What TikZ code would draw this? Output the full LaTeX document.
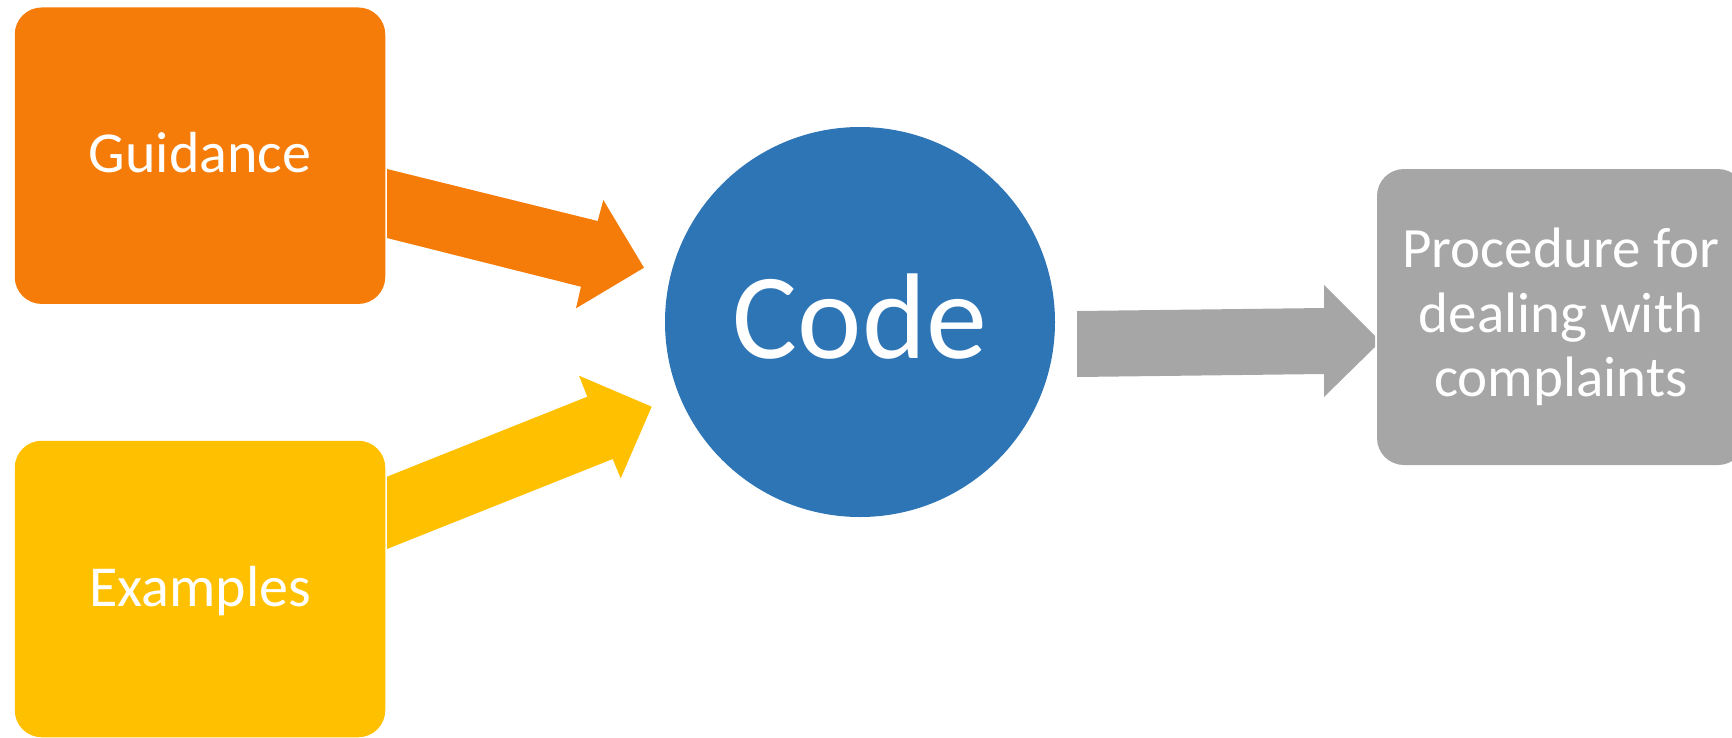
\documentclass[tikz,border=0pt]{standalone}
\usepackage{fontspec}
\setmainfont{Carlito}
\definecolor{guideorange}{RGB}{246,124,10}
\definecolor{exampleyellow}{RGB}{255,192,0}
\definecolor{codeblue}{RGB}{46,117,182}
\definecolor{procgray}{RGB}{166,166,166}
\tikzset{
  block/.style={rectangle, rounded corners=27pt, inner sep=0pt,
    minimum width=370.5pt, minimum height=296.5pt, text=white,
    font=\fontsize{58}{64.5}\selectfont, text height=37pt, text depth=3pt},
  hub/.style={circle, inner sep=0pt, minimum size=390pt, fill=codeblue,
    text=white, font=\fontsize{122}{140}\selectfont,
    text height=79pt, text depth=7pt},
  result/.style={rectangle, rounded corners=27pt, inner sep=0pt,
    minimum width=368pt, minimum height=296pt, fill=procgray, text=white,
    align=center, font=\fontsize{57}{64.5}\selectfont},
}
\begin{document}
\begin{tikzpicture}[x=1pt, y=-1pt]
  \useasboundingbox (0,0) rectangle (1732,737);

  % input boxes, hub and output box
  \node[block, fill=guideorange]   (guide) at (200,155.7) {Guidance};
  \node[block, fill=exampleyellow] (examp) at (200,589)   {Examples};
  \node[hub] (code) at (860,322) {Code};
  \node[result] (proc) at (1561,317) {Procedure for\\dealing with\\complaints};

  % block arrow: Guidance -> Code
  \fill[guideorange] (387,169) -- (597.7,221) -- (603.3,200) -- (644,267.7)
    -- (576,308.3) -- (581,286.7) -- (387,238) -- cycle;

  % block arrow: Examples -> Code
  \fill[exampleyellow] (387,476.7) -- (587.3,396.7) -- (579,375.7) -- (651.7,406.7)
    -- (620.7,478.3) -- (612.7,459) -- (387,549) -- cycle;

  % block arrow: Code -> Procedure
  \fill[procgray] (1077,311) -- (1324,308) -- (1324,285) -- (1375,336)
    -- (1375,347) -- (1324,397) -- (1324,374) -- (1077,377) -- cycle;
\end{tikzpicture}
\end{document}
